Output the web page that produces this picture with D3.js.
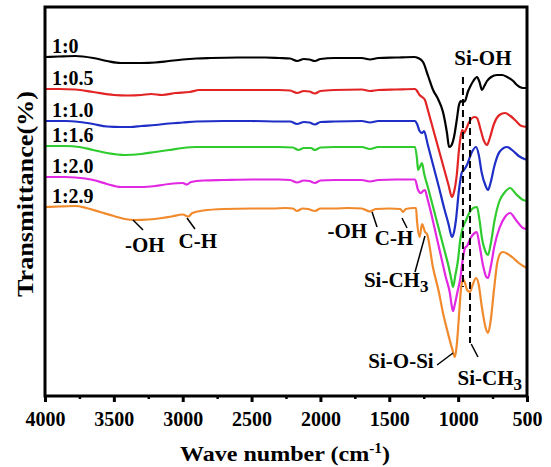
<!DOCTYPE html>
<html>
<head>
<meta charset="utf-8">
<script src="https://cdn.jsdelivr.net/npm/d3@7"></script>
<style>
body { margin: 0; background: #fff; }
text { font-family: "Liberation Serif", "Times New Roman", serif; font-weight: bold; fill: #000; }
</style>
</head>
<body>
<div id="graph"></div>
<script>
// sample ratios (legend text at the left of each trace)
var ratios = ["1:0", "1:0.5", "1:1.0", "1:1.6", "1:2.0", "1:2.9"]
var colors = ["#000000", "#e22424", "#1e2ec6", "#2fcb2f", "#e228e2", "#f08a2c"]

// [wave number (cm-1), transmittance (a.u., stacked)]
var s_1_0 = [[4000,339],[3900,339.5],[3780,340],[3650,338],[3550,335],[3450,333],[3300,333],[3200,333.5],[3100,335],[3000,336.5],
  [2900,337.5],[2800,338],[2600,338.5],[2400,338.5],[2300,338],[2220,337.5],[2170,335],[2120,337],[2080,336.5],[2040,335],
  [2000,337],[1900,338],[1700,338],[1640,336.5],[1580,338],[1450,338.5],[1320,339],[1291,338],[1255,334],[1218,320],
  [1182,306],[1146,297],[1110,284],[1081,263],[1066,249],[1052,250],[1030,259],[1010,276],[994,291],[980,295],
  [965,294],[950,295],[930,304],[914,309],[890,315],[863,319],[845,314],[827,306],[810,310],[790,315],
  [760,319],[718,321],[680,321],[645,319],[600,315],[573,311],[530,308],[500,308]]
var s_1_05 = [[4000,307],[3900,307],[3780,306.5],[3650,304],[3500,301],[3400,300.5],[3300,301],[3230,302],[3150,301],[3050,303],
  [2950,304],[2880,306],[2700,306],[2500,306],[2300,306],[2220,305.5],[2170,303],[2120,305],[2080,304.5],[2040,302.5],
  [2000,305],[1900,306],[1700,306.5],[1640,305],[1580,306],[1450,306.5],[1313,307],[1298,305],[1280,301],[1262,299],
  [1241,296],[1220,286],[1180,266],[1140,246],[1100,226],[1070,211],[1045,199],[1030,204],[1010,221],[994,246],
  [980,261],[970,266],[958,263],[945,266],[920,274],[880,279],[863,278],[840,268],[815,256],[790,251],
  [770,258],[740,272],[700,281],[660,283],[620,280],[580,275],[540,270],[500,269]]
var s_1_10 = [[4000,275],[3850,275],[3750,274],[3650,272],[3550,269.5],[3450,269],[3380,269],[3300,270],[3200,271],[3100,272.5],
  [3000,273.5],[2900,274.5],[2700,275],[2500,275],[2300,274.5],[2220,274.5],[2170,272],[2120,274],[2080,273.5],[2040,271.5],
  [2000,274],[1900,274.5],[1700,275],[1640,273.5],[1580,275],[1450,275],[1313,275],[1298,272],[1280,265],[1262,263],
  [1248,265],[1220,251],[1180,230],[1140,209],[1100,187],[1070,172],[1045,159],[1030,164],[1016,176],[994,206],
  [972,224],[958,226],[936,231],[900,244],[870,249],[850,241],[830,224],[800,210],[783,206],[765,213],
  [735,231],[700,244],[645,249],[600,245],[560,240],[500,236]]
var s_1_16 = [[4000,250],[3850,250],[3750,249],[3650,246],[3550,243],[3420,241],[3300,242],[3200,244],[3100,246],[3000,248],
  [2900,249],[2700,249],[2500,249],[2300,249],[2200,248.5],[2160,246],[2120,248],[2070,248],[2040,246],[2000,248.5],
  [1900,249],[1700,249],[1640,247],[1580,249],[1450,249],[1313,249],[1298,236],[1291,226],[1275,230],[1262,233],
  [1248,223],[1220,209],[1180,188],[1140,167],[1100,146],[1070,130],[1050,117],[1037,109],[1020,121],[1001,136],
  [985,156],[965,169],[945,175],[920,183],[890,188],[863,189],[845,176],[825,156],[800,144],[783,141],
  [765,151],[735,176],[700,195],[660,204],[623,208],[580,202],[529,196],[500,195]]
var s_1_20 = [[4000,219],[3850,219],[3780,218.5],[3650,216],[3550,212],[3450,209],[3300,209],[3200,210],[3100,212],[3000,213],
  [2970,211.5],[2940,214],[2850,215.5],[2700,216],[2500,216.5],[2300,216.5],[2220,216],[2170,213.5],[2120,215.5],[2080,215],
  [2040,213],[2000,215.5],[1900,216],[1700,216],[1640,214.5],[1580,216],[1450,216.5],[1313,216.5],[1291,206],[1270,203],
  [1255,205],[1241,206],[1226,199],[1200,185],[1160,161],[1120,137],[1090,119],[1060,103],[1045,89],[1037,85],
  [1025,91],[1005,104],[986,116],[965,138],[950,148],[935,150],[910,158],[880,163],[865,164],[845,151],
  [820,131],[795,119],[783,118],[765,128],[735,151],[700,168],[660,179],[623,183],[580,176],[529,168],[500,167]]
var s_1_29 = [[4000,189],[3900,189.5],[3780,190],[3700,188],[3600,184],[3500,180],[3420,177],[3350,176],[3250,176.5],[3150,178],
  [3080,179.5],[3000,181.5],[2960,179.5],[2930,183],[2850,185.5],[2700,187],[2500,187.5],[2350,187.5],[2250,188],[2200,187.5],
  [2170,185],[2130,187.5],[2090,187],[2040,185],[2000,187.5],[1900,187.5],[1800,188],[1700,187.5],[1640,184.5],[1600,187],
  [1500,187.5],[1420,187],[1400,184],[1380,187],[1320,188],[1306,188],[1298,174],[1280,159],[1262,172],[1240,164],
  [1226,162],[1182,128],[1140,104],[1110,83],[1080,66],[1045,48],[1023,39],[1010,51],[995,78],[980,106],
  [965,117],[950,113],[935,106],[914,104],[895,111],[870,118],[850,111],[830,91],[800,68],[783,63],
  [765,74],[740,106],[715,134],[690,143],[674,144],[640,142],[600,138],[560,133],[515,129],[500,128]]
var series = [s_1_0, s_1_05, s_1_10, s_1_16, s_1_20, s_1_29]

var xTicks = [4000, 3500, 3000, 2500, 2000, 1500, 1000, 500]
var xMinorTicks = [3750, 3250, 2750, 2250, 1750, 1250, 750]

// band assignments: text, wave number, transmittance, subscript
var notes = [
  ["-OH", 3275, 144, ""], ["C-H", 2890, 148, ""],
  ["-OH", 1805, 158, ""], ["C-H", 1465, 151, ""],
  ["Si-CH", 1450, 109, "3"], ["Si-O-Si", 1415, 28, ""],
  ["Si-CH", 770, 11, "3"], ["Si-OH", 820, 331, ""]
]
// leader lines [w1, v1, w2, v2]
var leaders = [[3361,176,3288,166],[2969,178,2911,167],[1625,184,1589,169],[1408,178,1371,168],
  [1241,160,1313,124],[1153,31,1037,43],[905,52,856,39]]
// dashed marker lines [w, vTop, vBottom]
var dashes = [[965, 319, 109], [914, 279, 53]]

var W = 551, H = 467

var x = d3.scaleLinear().domain([4000, 500]).range([45, 527])
var y = d3.scaleLinear().domain([0, 390]).range([396, 6])

var svg = d3.select("#graph")
    .append("svg")
        .attr("width", W)
        .attr("height", H)

var line = d3.line()
    .x(function(d){ return x(d[0]) })
    .y(function(d){ return y(d[1]) })
    .curve(d3.curveMonotoneX)

svg.selectAll("path.trace")
    .data(series)
    .enter().append("path")
        .attr("class", "trace")
        .attr("d", line)
        .attr("fill", "none")
        .attr("stroke", function(d, i){ return colors[i] })
        .attr("stroke-width", 2.2)
        .attr("stroke-linejoin", "round")

svg.selectAll("text.ratio")
    .data(series)
    .enter().append("text")
        .attr("class", "ratio")
        .attr("x", x(3950))
        .attr("y", function(d){ return y(d[0][1] + 4) })
        .attr("font-size", 20)
        .text(function(d, i){ return ratios[i] })

svg.selectAll("line.dash")
    .data(dashes)
    .enter().append("line")
        .attr("class", "dash")
        .attr("x1", function(d){ return x(d[0]) })
        .attr("x2", function(d){ return x(d[0]) })
        .attr("y1", function(d){ return y(d[1]) })
        .attr("y2", function(d){ return y(d[2]) })
        .attr("stroke", "#000")
        .attr("stroke-width", 2)
        .attr("stroke-dasharray", "7,4")

svg.selectAll("line.leader")
    .data(leaders)
    .enter().append("line")
        .attr("class", "leader")
        .attr("x1", function(d){ return x(d[0]) })
        .attr("y1", function(d){ return y(d[1]) })
        .attr("x2", function(d){ return x(d[2]) })
        .attr("y2", function(d){ return y(d[3]) })
        .attr("stroke", "#000")
        .attr("stroke-width", 1.5)

var nt = svg.selectAll("text.note")
    .data(notes)
    .enter().append("text")
        .attr("class", "note")
        .attr("x", function(d){ return x(d[1]) })
        .attr("y", function(d){ return y(d[2]) })
        .attr("font-size", 21)
        .attr("text-anchor", "middle")
nt.append("tspan").text(function(d){ return d[0] })
nt.append("tspan")
    .attr("dy", 5)
    .attr("font-size", 17)
    .text(function(d){ return d[3] })

// axes
var xAxis = svg.append("g")
    .attr("transform", "translate(0,396)")
    .call(d3.axisBottom(x).tickValues(xTicks).tickSize(6).tickPadding(10).tickFormat(d3.format("d")))
xAxis.select(".domain").remove()
xAxis.selectAll("line").attr("stroke-width", 3)
xAxis.selectAll("text")
    .attr("font-size", 20)
    .attr("font-family", "Liberation Serif")
    .attr("font-weight", "bold")

var xMinor = svg.append("g")
    .attr("transform", "translate(0,396)")
    .call(d3.axisBottom(x).tickValues(xMinorTicks).tickSize(3).tickFormat(""))
xMinor.select(".domain").remove()
xMinor.selectAll("line").attr("stroke-width", 2.5)

svg.append("rect")
    .attr("x", x(4000))
    .attr("y", y(389))
    .attr("width", x(500) - x(4000))
    .attr("height", y(0) - y(389))
    .attr("fill", "none")
    .attr("stroke", "#000")
    .attr("stroke-width", 3)

var xt = svg.append("text")
    .attr("x", 285)
    .attr("y", 461)
    .attr("text-anchor", "middle")
    .attr("font-size", 22)
    .attr("textLength", 210)
    .attr("lengthAdjust", "spacingAndGlyphs")
xt.append("tspan").text("Wave number (cm")
xt.append("tspan").attr("dy", -8).attr("font-size", 14).text("-1")
xt.append("tspan").attr("dy", 8).text(")")

svg.append("text")
    .attr("transform", "translate(33,194) rotate(-90)")
    .attr("text-anchor", "middle")
    .attr("font-size", 23)
    .attr("textLength", 206)
    .attr("lengthAdjust", "spacingAndGlyphs")
    .text("Transmittance(%)")
</script>
</body>
</html>
